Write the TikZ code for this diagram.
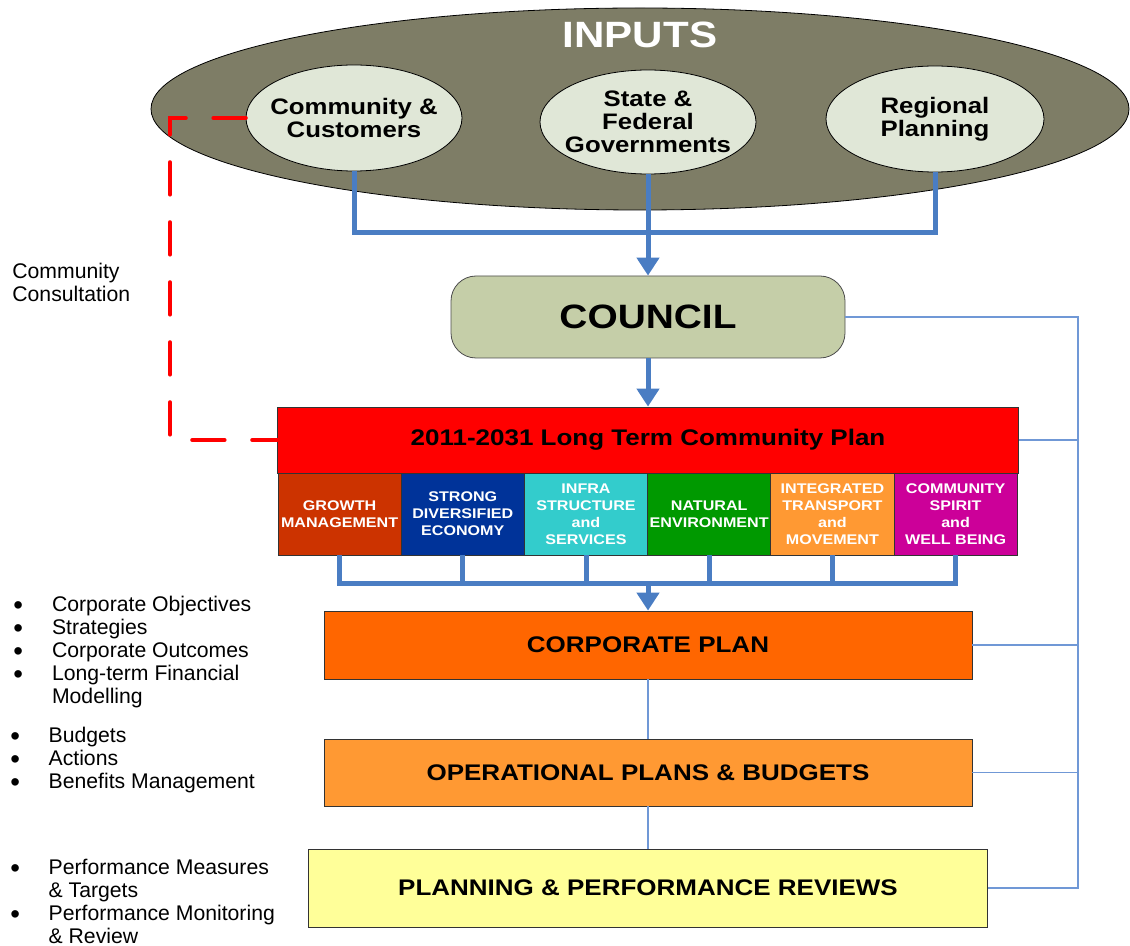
\documentclass[tikz,border=0pt]{standalone}
\usepackage{fontspec}
\usepackage{graphicx}
\setmainfont{Liberation Sans}
\newfontfamily\widesf[FakeStretch=1.15]{Liberation Sans}
\usetikzlibrary{arrows.meta, shapes}

\definecolor{inputgrey}{HTML}{7E7D66}
\definecolor{inputpale}{HTML}{E0E7D7}
\definecolor{councilgreen}{HTML}{C5CEA8}
\definecolor{busblue}{HTML}{4A7DC3}
\definecolor{linkblue}{HTML}{7098D6}
\definecolor{growthred}{HTML}{CC3300}
\definecolor{economyblue}{HTML}{003399}
\definecolor{infrateal}{HTML}{33CCCC}
\definecolor{naturalgreen}{HTML}{009900}
\definecolor{transportorange}{HTML}{FF9933}
\definecolor{spiritmagenta}{HTML}{CC0099}
\definecolor{corporange}{HTML}{FF6600}
\definecolor{operorange}{HTML}{FF9933}
\definecolor{reviewyellow}{HTML}{FFFF99}

\newcommand{\notebullet}{\raisebox{-1.6pt}{\scalebox{1.3}{\textbullet}}}

\begin{document}
\begin{tikzpicture}[x=0.5pt, y=-0.5pt, >={Triangle[width=11pt,length=9pt]},
  input/.style={ellipse, draw, fill=inputpale, inner xsep=-4pt, inner ysep=0pt,
    align=center, minimum width=108pt, minimum height=53pt,
    font=\widesf\bfseries\fontsize{11.2}{11.5}\selectfont},
  plan/.style={rectangle, draw=black!80, inner sep=0pt, align=center,
    font=\widesf\bfseries\fontsize{11.3}{13}\selectfont},
  theme/.style={plan, minimum width=61.6pt, minimum height=41pt, text=white,
    font=\widesf\bfseries\fontsize{7}{8.5}\selectfont},
  bus/.style={draw=busblue, line width=2.5pt},
  link/.style={draw=linkblue, line width=0.7pt},
  consult/.style={draw=red, line width=2.2pt, line cap=round,
    dash pattern=on 16pt off 14pt},
  note/.style={inner sep=0pt, anchor=base west,
    font=\fontsize{10.6}{11.5}\selectfont}]

  \useasboundingbox (0,0) rectangle (1130,946);

  % inputs
  \node[ellipse, draw, fill=inputgrey, minimum width=489pt, minimum height=101pt] (inputs) at (640,109) {};
  \node[text=white, font=\widesf\bfseries\fontsize{18.3}{20}\selectfont] (inputslabel) at (640,35) {INPUTS};
  \node[input] (comm) at (354,118) {Community \&\\Customers};
  \node[input, minimum height=52pt] (state) at (648,122) {State \&\\Federal\\Governments};
  \node[input, minimum width=109pt] (regional) at (935,119) {Regional\\Planning};

  \node[rectangle, rounded corners=12.5pt, draw=black!70, fill=councilgreen,
        minimum width=197pt, minimum height=41pt,
        font=\widesf\bfseries\fontsize{16.9}{18}\selectfont] (council) at (648,317) {COUNCIL};

  \node[plan, fill=red, minimum width=370.5pt, minimum height=33pt] (plan) at (648,440)
    {2011-2031 Long Term Community Plan};

  % themes under the community plan
  \node[theme, fill=growthred] (growth) at (339.6,514) {GROWTH\\MANAGEMENT};
  \node[theme, fill=economyblue] (economy) at (462.8,514) {STRONG\\DIVERSIFIED\\ECONOMY};
  \node[theme, fill=infrateal] (infra) at (586,514) {INFRA\\STRUCTURE\\and\\SERVICES};
  \node[theme, fill=naturalgreen] (natural) at (709.2,514) {NATURAL\\ENVIRONMENT};
  \node[theme, fill=transportorange] (transport) at (832.4,514) {INTEGRATED\\TRANSPORT\\and\\MOVEMENT};
  \node[theme, fill=spiritmagenta] (spirit) at (955.6,514) {COMMUNITY\\SPIRIT\\and\\WELL BEING};

  \node[plan, fill=corporange, minimum width=324pt, minimum height=34pt] (corp) at (648,645) {CORPORATE PLAN};
  \node[plan, fill=operorange, minimum width=324pt, minimum height=33.5pt] (oper) at (648,772.5) {OPERATIONAL PLANS \& BUDGETS};
  \node[plan, fill=reviewyellow, minimum width=339.5pt, minimum height=39pt] (review) at (648,888) {PLANNING \& PERFORMANCE REVIEWS};

  % blue flows
  \coordinate (inbus) at (648,233);
  \coordinate (themebus) at (648,583);
  \draw[bus] (comm.south) |- (inbus) -| (regional.south);
  \draw[bus,->] (state.south) -- (council.north);
  \draw[bus,->] (council.south) -- (plan.north);
  \draw[bus] (growth.south) |- (themebus) -| (spirit.south);
  \foreach \n in {economy, infra, natural, transport}
    \draw[bus] (\n.south) -- (\n.south |- themebus);
  \draw[bus,->] (themebus) -- (corp.north);
  \draw[link] (corp.south) -- (oper.north);
  \draw[link] (oper.south) -- (review.north);

  % feedback on the right
  \coordinate (fb) at (1078,317);
  \draw[link] (council.east) -- (fb) -- (fb |- review.east) -- (review.east);
  \foreach \n in {plan, corp, oper}
    \draw[link] (\n.east) -- (\n.east -| fb);

  % consultation loop
  \coordinate (bend) at (170,440);
  \draw[consult] (comm.west) -| (bend) -- (plan.west);
  \node[note] (consultation) at (12,279)
    {\begin{tabular}[t]{@{}l@{}}Community\\Consultation\end{tabular}};

  \node[note] (corpnotes) at (13,611) {\begin{tabular}[t]{@{}l@{\hspace{14.5pt}}l@{}}
    \notebullet & Corporate Objectives\\
    \notebullet & Strategies\\
    \notebullet & Corporate Outcomes\\
    \notebullet & Long-term Financial\\
                & Modelling
  \end{tabular}};
  \node[note] (opernotes) at (10,742) {\begin{tabular}[t]{@{}l@{\hspace{14.3pt}}l@{}}
    \notebullet & Budgets\\
    \notebullet & Actions\\
    \notebullet & Benefits Management
  \end{tabular}};
  \node[note] (reviewnotes) at (10,874) {\begin{tabular}[t]{@{}l@{\hspace{14.3pt}}l@{}}
    \notebullet & Performance Measures\\
                & \& Targets\\
    \notebullet & Performance Monitoring\\
                & \& Review
  \end{tabular}};
\end{tikzpicture}
\end{document}
